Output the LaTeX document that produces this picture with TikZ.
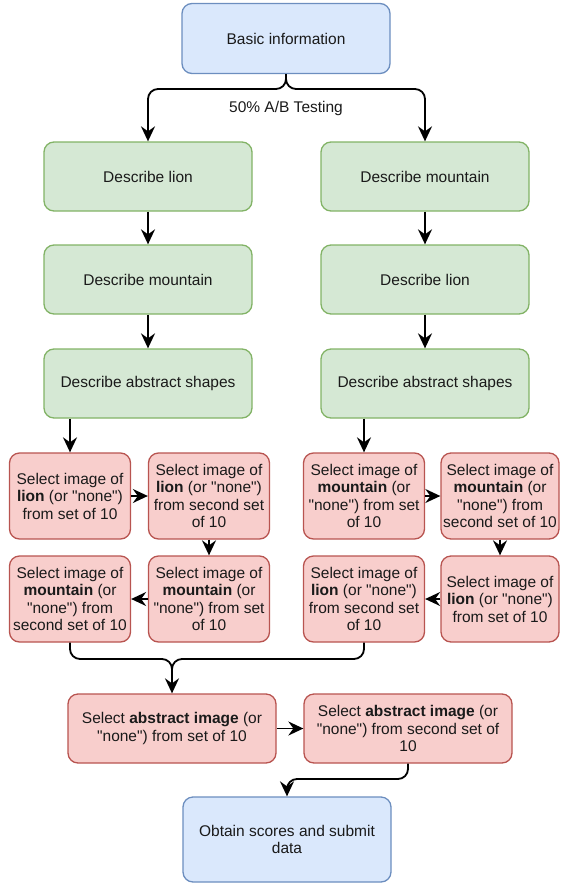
\documentclass[tikz,border=0pt]{standalone}
\usepackage{fontspec}
\setmainfont{Liberation Sans}[Ligatures=TeXOff]
\usetikzlibrary{arrows.meta,calc}
\definecolor{bfill}{HTML}{DAE8FC}\definecolor{bdraw}{HTML}{6C8EBF}
\definecolor{gfill}{HTML}{D5E8D4}\definecolor{gdraw}{HTML}{82B366}
\definecolor{rfill}{HTML}{F8CECC}\definecolor{rdraw}{HTML}{B85450}
\definecolor{txt}{HTML}{1A1A1A}
\tikzset{
  x=1pt,y=1pt,
  box/.style={rounded corners=10pt,line width=1.3pt,align=center,text=txt,inner sep=2pt,
    font=\fontsize{15.5}{17.5}\selectfont},
  bluebox/.style={box,fill=bfill,draw=bdraw,minimum width=208pt},
  greenbox/.style={box,fill=gfill,draw=gdraw,minimum width=208pt,minimum height=69pt},
  redbox/.style={box,fill=rfill,draw=rdraw,minimum width=121pt,minimum height=86pt},
  wire/.style={line width=1.8pt,rounded corners=10pt},
  conn/.style={line width=1.8pt,sharp corners,-{Stealth[length=15pt,width=14pt,inset=5pt]}},
}
\begin{document}
\begin{tikzpicture}
\useasboundingbox (0,0) rectangle (560,-884);
\node[bluebox,minimum height=70pt] (basic) at (286,-38.5) {Basic information};
\node[greenbox] (l1) at (148,-176.5) {Describe lion};
\node[greenbox] (l2) at (148,-279.5) {Describe mountain};
\node[greenbox] (l3) at (148,-383.5) {Describe abstract shapes};
\node[greenbox] (r1) at (425,-176.5) {Describe mountain};
\node[greenbox] (r2) at (425,-279.5) {Describe lion};
\node[greenbox] (r3) at (425,-383.5) {Describe abstract shapes};
\node[font=\fontsize{15.5}{17.5}\selectfont,text=txt] (ab) at (286,-108) {50\% A/B Testing};

\node[redbox] (b1) at (70,-496) {Select image of\\\textbf{lion} (or "none")\\from set of 10};
\node[redbox] (b2) at (209,-496) {Select image of\\\textbf{lion} (or "none")\\from second set\\of 10};
\node[redbox] (b3) at (70,-599) {Select image of\\\textbf{mountain} (or\\"none") from\\second set of 10};
\node[redbox] (b4) at (209,-599) {Select image of\\\textbf{mountain} (or\\"none") from set\\of 10};
\node[redbox] (b5) at (364,-496) {Select image of\\\textbf{mountain} (or\\"none") from set\\of 10};
\node[redbox,minimum width=118pt] (b6) at (500,-496) {Select image of\\\textbf{mountain} (or\\"none") from\\second set of 10};
\node[redbox] (b7) at (364,-599) {Select image of\\\textbf{lion} (or "none")\\from second set\\of 10};
\node[redbox,minimum width=118pt] (b8) at (500,-599) {Select image of\\\textbf{lion} (or "none")\\from set of 10};

\node[redbox,minimum width=208pt,minimum height=69pt] (a1) at (172,-728.5) {Select \textbf{abstract image} (or\\"none") from set of 10};
\node[redbox,minimum width=208pt,minimum height=69pt] (a2) at (408,-728.5) {Select \textbf{abstract image} (or\\"none") from second set of\\10};

\node[bluebox,minimum height=85pt] (fin) at (287,-839.5) {Obtain scores and submit\\data};

\coordinate (jl) at ($(l1.north)+(0,24)$);
\coordinate (jr) at ($(r1.north)+(0,24)$);
\coordinate (ja) at ($(a1.north)+(0,20)$);
\coordinate (jf) at ($(fin.north)+(0,10)$);
\draw[wire] (basic.south) -- (286,-89) -| (jl);
\draw[wire] (basic.south) -- (286,-89) -| (jr);
\draw[conn] (jl) -- (l1.north);
\draw[conn] (jr) -- (r1.north);
\draw[conn] (l1) -- (l2);
\draw[conn] (l2) -- (l3);
\draw[conn] (r1) -- (r2);
\draw[conn] (r2) -- (r3);
\draw[conn] (b1.north |- l3.south) -- (b1.north);
\draw[conn] (b5.north |- r3.south) -- (b5.north);
\draw[conn] (b1.east) -- (b2.west);
\draw[conn] (b2.south) -- (b4.north);
\draw[conn] (b4.west) -- (b3.east);
\draw[conn] (b5.east) -- (b6.west);
\draw[conn] (b6.south) -- (b8.north);
\draw[conn] (b8.west) -- (b7.east);
\draw[wire] (b3.south) -- (b3.south |- 0,-659) -| (ja);
\draw[wire] (b7.south) -- (b7.south |- 0,-659) -| (ja);
\draw[conn] (ja) -- (a1.north);
\draw[conn] (a1.east) -- (a2.west);
\draw[wire] (a2.south) -- (a2.south |- 0,-779) -| (jf);
\draw[conn] (jf) -- (fin.north);
\end{tikzpicture}
\end{document}
